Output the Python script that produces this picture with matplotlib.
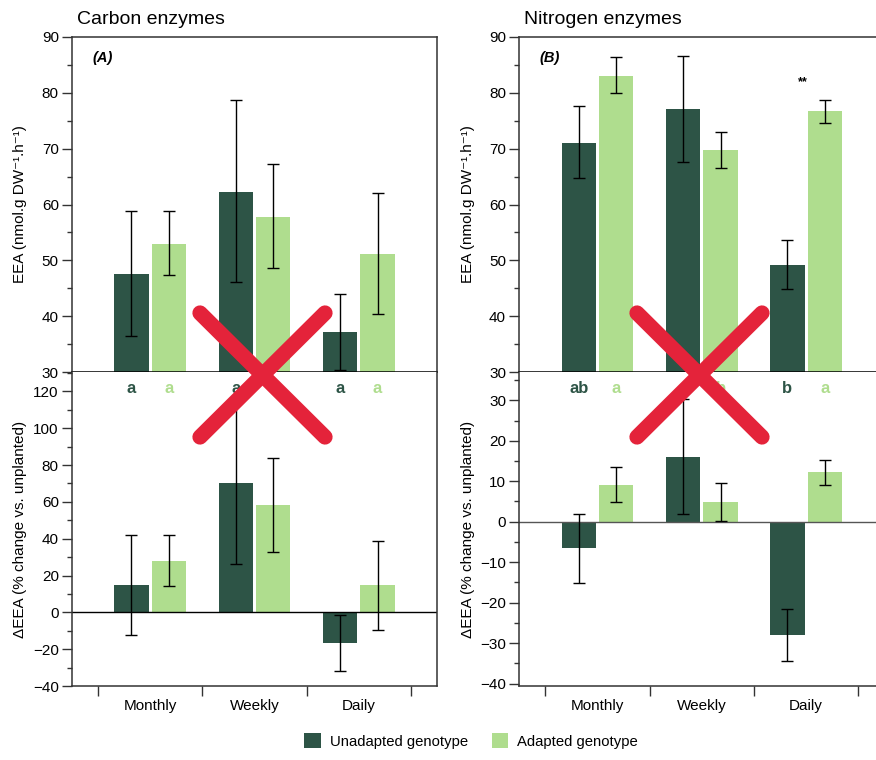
import matplotlib
matplotlib.use("Agg")
import matplotlib.pyplot as plt
from matplotlib.lines import Line2D
from matplotlib.patches import Patch
import numpy as np

plt.rcParams['font.family'] = ['Liberation Sans', 'DejaVu Sans']

categories = ['Monthly', 'Weekly', 'Daily']

# Carbon enzymes, EEA
c_eea_unad = [47.5, 62.3, 37.1]
c_eea_unad_lo = [36.4, 46.1, 30.4]
c_eea_unad_hi = [58.9, 78.7, 44.0]
c_eea_ad = [53.0, 57.8, 51.1]
c_eea_ad_lo = [47.4, 48.6, 40.3]
c_eea_ad_hi = [58.9, 67.2, 62.0]
# Carbon enzymes, delta EEA
c_d_unad = [14.7, 70.4, -16.8]
c_d_unad_lo = [-12.3, 26.1, -32.0]
c_d_unad_hi = [42.2, 114.7, -1.3]
c_d_ad = [28.1, 58.1, 14.7]
c_d_ad_lo = [14.3, 32.8, -9.6]
c_d_ad_hi = [42.2, 83.8, 38.9]
c_letters_unad = ['a', 'a', 'a']
c_letters_ad = ['a', 'a', 'a']

# Nitrogen enzymes, EEA
n_eea_unad = [71.1, 77.1, 49.2]
n_eea_unad_lo = [64.7, 67.6, 44.9]
n_eea_unad_hi = [77.7, 86.6, 53.6]
n_eea_ad = [83.1, 69.7, 76.7]
n_eea_ad_lo = [79.9, 66.5, 74.6]
n_eea_ad_hi = [86.5, 72.9, 78.8]
# Nitrogen enzymes, delta EEA
n_d_unad = [-6.6, 16.1, -27.9]
n_d_unad_lo = [-15.1, 1.8, -34.3]
n_d_unad_hi = [1.9, 30.3, -21.5]
n_d_ad = [9.1, 4.9, 12.2]
n_d_ad_lo = [4.9, 0.2, 9.1]
n_d_ad_hi = [13.5, 9.6, 15.3]
n_letters_unad = ['ab', 'a', 'b']
n_letters_ad = ['a', 'b', 'a']

DARK = '#2d5446'
LIGHT = '#afdd8e'
SPINE = '#333333'

W, H = 876, 760
fig = plt.figure(figsize=(W / 100, H / 100), dpi=100)

def fx(px):
    return px / W

def fy(py):
    return 1 - py / H

x = np.arange(len(categories))
off = 0.18
bw = 0.33

def bars(ax, v1, lo1, hi1, v2, lo2, hi2):
    v1, lo1, hi1 = map(np.array, (v1, lo1, hi1))
    v2, lo2, hi2 = map(np.array, (v2, lo2, hi2))
    ax.bar(x - off, v1, bw, color=DARK, edgecolor='none', zorder=2)
    ax.bar(x + off, v2, bw, color=LIGHT, edgecolor='none', zorder=2)
    ax.errorbar(x - off, v1, yerr=[v1 - lo1, hi1 - v1], fmt='none', ecolor='black',
                elinewidth=1, capsize=4, capthick=1, zorder=3)
    ax.errorbar(x + off, v2, yerr=[v2 - lo2, hi2 - v2], fmt='none', ecolor='black',
                elinewidth=1, capsize=4, capthick=1, zorder=3)

def style_y(ax, major, minor):
    ax.yaxis.set_major_locator(matplotlib.ticker.MultipleLocator(major))
    ax.yaxis.set_minor_locator(matplotlib.ticker.MultipleLocator(minor))
    ax.tick_params(axis='y', which='major', direction='out', length=7, width=1,
                   labelsize=11, pad=2.5, colors=SPINE, labelcolor='black')
    ax.tick_params(axis='y', which='minor', direction='out', length=3.5, width=1, colors=SPINE)
    for s in ax.spines.values():
        s.set_color(SPINE)
        s.set_linewidth(1.1)

def make_column(left_px, title, tag, top_data, bot_data, letters, bot_ylim, bot_major, bot_minor,
                zero_color, stars=False):
    axw = 365
    axT = fig.add_axes([fx(left_px), fy(372), axw / W, 335 / H])
    axB = fig.add_axes([fx(left_px), fy(686), axw / W, 314 / H])
    for ax in (axT, axB):
        ax.set_xlim(-0.75, 2.75)
    bars(axT, *top_data)
    axT.set_ylim(30, 90)
    style_y(axT, 10, 5)
    axT.set_xticks([])
    axT.spines['bottom'].set_color('black')
    axT.set_ylabel('EEA (nmol.g DW\u207b\u00b9.h\u207b\u00b9)', fontsize=11)
    axT.text(0.055, 0.937, tag, transform=axT.transAxes, fontsize=10.5,
             fontweight='bold', fontstyle='italic', va='center', ha='left')
    if stars:
        axT.text(1.97, 81.9, '**', fontsize=9, fontweight='bold', ha='center', va='center')

    bars(axB, *bot_data)
    axB.set_ylim(*bot_ylim)
    style_y(axB, bot_major, bot_minor)
    axB.spines['top'].set_visible(False)
    axB.axhline(0, color=zero_color, lw=1, zorder=2.5)
    axB.set_ylabel('ΔEEA (% change vs. unplanted)', fontsize=11)
    axB.set_xticks([-0.5, 0.5, 1.5, 2.5])
    axB.set_xticklabels([])
    axB.set_xticks(x, minor=True)
    axB.set_xticklabels(categories, minor=True)
    axB.tick_params(axis='x', which='major', direction='out', length=7.5, width=1, colors=SPINE)
    axB.tick_params(axis='x', which='minor', length=0, pad=9.5, labelsize=11)
    lu, la = letters
    for i in range(len(categories)):
        axB.text(x[i] - off, 0.949, lu[i], transform=axB.get_xaxis_transform(), color=DARK,
                 fontsize=12, fontweight='bold', ha='center', va='center', zorder=4)
        axB.text(x[i] + off, 0.949, la[i], transform=axB.get_xaxis_transform(), color=LIGHT,
                 fontsize=12, fontweight='bold', ha='center', va='center', zorder=4)
    fig.text(fx(left_px + 5), fy(19), title, fontsize=14, ha='left', va='center')
    axT.yaxis.set_label_coords(-0.122, 0.5)
    axB.yaxis.set_label_coords(-0.122, 0.5)
    return axT, axB

make_column(72, 'Carbon enzymes', '(A)',
            (c_eea_unad, c_eea_unad_lo, c_eea_unad_hi, c_eea_ad, c_eea_ad_lo, c_eea_ad_hi),
            (c_d_unad, c_d_unad_lo, c_d_unad_hi, c_d_ad, c_d_ad_lo, c_d_ad_hi),
            (c_letters_unad, c_letters_ad), (-40, 130.5), 20, 10, 'black')
make_column(519.3, 'Nitrogen enzymes', '(B)',
            (n_eea_unad, n_eea_unad_lo, n_eea_unad_hi, n_eea_ad, n_eea_ad_lo, n_eea_ad_hi),
            (n_d_unad, n_d_unad_lo, n_d_unad_hi, n_d_ad, n_d_ad_lo, n_d_ad_hi),
            (n_letters_unad, n_letters_ad), (-40.6, 37.0), 10, 5, '#555555', stars=True)

# Red crosses overlay
RED = '#e4233a'
for (x0, x1) in [(200, 325), (637, 762)]:
    for (ya, yb) in [(313, 437), (437, 313)]:
        fig.add_artist(Line2D([fx(x0), fx(x1)], [fy(ya), fy(yb)], transform=fig.transFigure,
                              color=RED, lw=11, solid_capstyle='round', zorder=10))

handles = [Patch(facecolor=DARK, edgecolor='none', label='Unadapted genotype'),
           Patch(facecolor=LIGHT, edgecolor='none', label='Adapted genotype')]
fig.legend(handles=handles, loc='center', bbox_to_anchor=(fx(471), fy(741)), ncol=2,
           frameon=False, fontsize=10.7, handlelength=1.1, handleheight=1.1,
           handletextpad=0.6, columnspacing=1.6)

fig.savefig('out.png', dpi=100)
